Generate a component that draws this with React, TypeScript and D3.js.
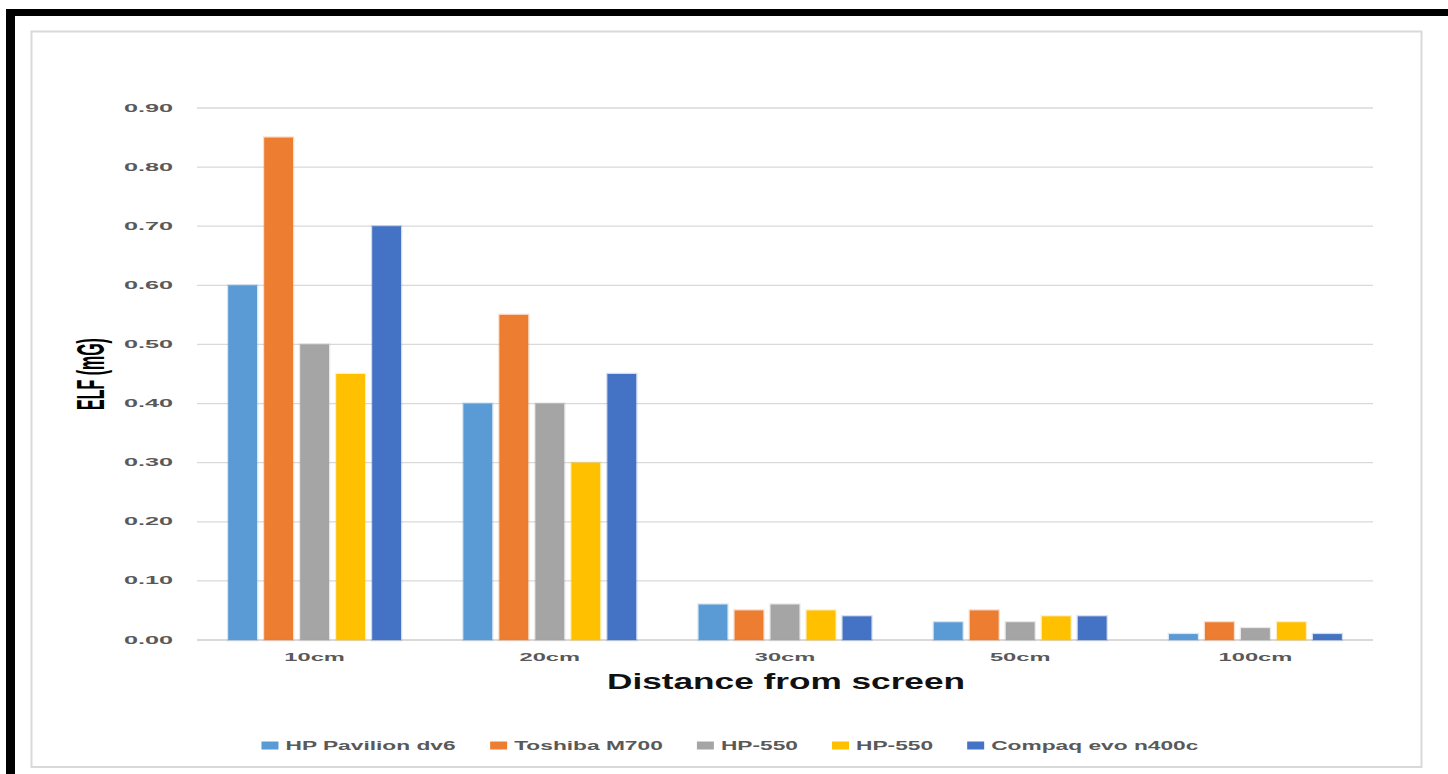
import React from 'react';
import * as d3 from 'd3';

// Distances measured from the screen (x categories)
const categories = ['10cm', '20cm', '30cm', '50cm', '100cm'];

// Laptop models (legend order) and their colours
const seriesNames = ['HP Pavilion dv6', 'Toshiba M700', 'HP-550', 'HP-550', 'Compaq evo n400c'];
const seriesColors = ['#5B9BD5', '#ED7D31', '#A5A5A5', '#FFC000', '#4472C4'];

// ELF readings (mG) per distance
const hpPavilionDv6 = [0.6, 0.4, 0.06, 0.03, 0.01];
const toshibaM700 = [0.85, 0.55, 0.05, 0.05, 0.03];
const hp550First = [0.5, 0.4, 0.06, 0.03, 0.02];
const hp550Second = [0.45, 0.3, 0.05, 0.04, 0.03];
const compaqEvo = [0.7, 0.45, 0.04, 0.04, 0.01];

const seriesValues = [hpPavilionDv6, toshibaM700, hp550First, hp550Second, compaqEvo];

// Value axis ticks
const yTicks = [0, 0.1, 0.2, 0.3, 0.4, 0.5, 0.6, 0.7, 0.8, 0.9];

const W = 1448;
const H = 774;
const FONT = "'Liberation Sans', Arial, sans-serif";

const plot = { left: 197, right: 1373, top: 108, bottom: 640 };

// horizontal stretch applied to the chart's text
const SX_TICK = 2.45;
const SX_CAT = 2.3;
const SX_LEGEND = 1.75;

let measureCtx: CanvasRenderingContext2D | null = null;
function textWidth(text: string, font: string): number {
  if (!measureCtx) {
    const c = document.createElement('canvas');
    measureCtx = c.getContext('2d');
  }
  if (!measureCtx) return text.length * 7;
  measureCtx.font = font;
  return measureCtx.measureText(text).width;
}

export default function App() {
  const x0 = d3.scaleBand<string>().domain(categories).range([plot.left, plot.right]).padding(0);
  const groupWidth = 172.8;
  const seriesKeys = seriesNames.map((_, i) => String(i));
  const x1 = d3.scaleBand<string>().domain(seriesKeys).range([0, groupWidth]).paddingInner(0.2).paddingOuter(0);
  const y = d3.scaleLinear().domain([0, 0.9]).range([plot.bottom, plot.top]);

  // legend layout
  const legendFont = `bold 13px ${FONT}`;
  const swatchW = 17;
  const swatchGap = 7;
  const itemGap = 34;
  const items = seriesNames.map((name) => textWidth(name, legendFont) * SX_LEGEND);
  const totalLegend = items.reduce((s, w, i) => s + swatchW + swatchGap + w + (i < items.length - 1 ? itemGap : 0), 0);
  let cursor = 730 - totalLegend / 2;
  const legendItems = items.map((w, i) => {
    const it = { x: cursor, textW: w, i };
    cursor += swatchW + swatchGap + w + itemGap;
    return it;
  });

  return (
    <div style={{ position: 'absolute', left: 0, top: 0, width: W, height: H, background: '#fff' }}>
      <svg width={W} height={H} viewBox={`0 0 ${W} ${H}`} style={{ display: 'block' }}>
        <rect x={0} y={0} width={W} height={H} fill="#fff" />

        {/* outer dark frame */}
        <rect x={6} y={9} width={W - 6} height={7} fill="#000" />
        <rect x={6} y={9} width={9} height={H - 9} fill="#000" />

        {/* chart area border */}
        <rect x={31.5} y={31.5} width={1390} height={735.5} fill="#fff" stroke="#d9d9d9" strokeWidth={2} />

        {/* gridlines */}
        {yTicks.map((t) => (
          <line
            key={`g${t}`}
            x1={plot.left}
            x2={plot.right}
            y1={y(t)}
            y2={y(t)}
            stroke="#d9d9d9"
            strokeWidth={t === 0 ? 2.2 : 1.3}
          />
        ))}

        {/* y tick labels */}
        {yTicks.map((t) => (
          <text
            key={`t${t}`}
            transform={`translate(173, ${y(t) + 3.6}) scale(${SX_TICK}, 1)`}
            textAnchor="end"
            fontFamily={FONT}
            fontSize={10.3}
            fontWeight="bold"
            fill="#595959"
          >
            {t.toFixed(2)}
          </text>
        ))}

        {/* bars */}
        {categories.map((c, ci) => {
          const gx = (x0(c) ?? 0) + (x0.bandwidth() - groupWidth) / 2;
          return (
            <g key={c} transform={`translate(${gx},0)`}>
              {seriesValues.map((vals, si) => {
                const v = vals[ci];
                const bx = x1(String(si)) ?? 0;
                const by = y(v);
                return (
                  <rect
                    key={si}
                    x={bx}
                    y={by}
                    width={x1.bandwidth()}
                    height={plot.bottom - by}
                    fill={seriesColors[si]}
                    stroke={seriesColors[si]}
                    strokeOpacity={0.25}
                    strokeWidth={2.5}
                  />
                );
              })}
            </g>
          );
        })}

        {/* category labels */}
        {categories.map((c) => (
          <text
            key={`c${c}`}
            transform={`translate(${(x0(c) ?? 0) + x0.bandwidth() / 2}, 660.5) scale(${SX_CAT}, 1)`}
            textAnchor="middle"
            fontFamily={FONT}
            fontSize={10.3}
            fontWeight="bold"
            fill="#595959"
          >
            {c}
          </text>
        ))}

        {/* axis titles */}
        <text
          x={(plot.left + plot.right) / 2 + 1}
          y={689}
          textAnchor="middle"
          fontFamily={FONT}
          fontSize={22}
          fontWeight="bold"
          fill="#111"
          textLength={358}
          lengthAdjust="spacingAndGlyphs"
        >
          Distance from screen
        </text>
        <text
          transform="translate(104, 374) rotate(-90) scale(0.76, 1.85)"
          textAnchor="middle"
          fontFamily={FONT}
          fontSize={21}
          fontWeight="bold"
          fill="#000"
        >
          ELF (mG)
        </text>

        {/* legend */}
        {legendItems.map((it) => (
          <g key={`l${it.i}`}>
            <rect x={it.x} y={741.5} width={swatchW} height={8} fill={seriesColors[it.i]} />
            <text
              transform={`translate(${it.x + swatchW + swatchGap}, 749.5) scale(${SX_LEGEND}, 1)`}
              fontFamily={FONT}
              fontSize={13}
              fontWeight="bold"
              fill="#595959"
            >
              {seriesNames[it.i]}
            </text>
          </g>
        ))}
      </svg>
    </div>
  );
}
